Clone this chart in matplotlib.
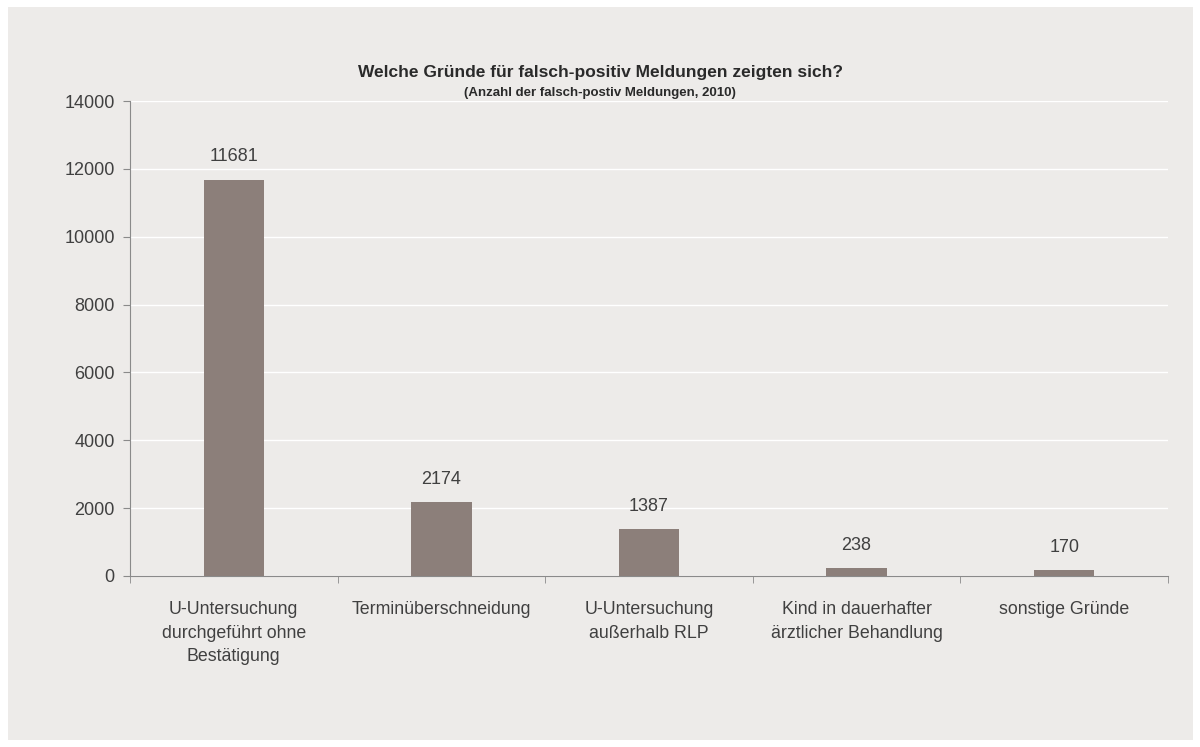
import numpy as np
import matplotlib.pyplot as plt
from matplotlib.patches import Rectangle

categories = [
    "U-Untersuchung\ndurchgeführt ohne\nBestätigung",
    "Terminüberschneidung",
    "U-Untersuchung\naußerhalb RLP",
    "Kind in dauerhafter\närztlicher Behandlung",
    "sonstige Gründe",
]
values = [11681, 2174, 1387, 238, 170]
yticks = [0, 2000, 4000, 6000, 8000, 10000, 12000, 14000]

bg = "#edebe9"
bar_color = "#8c7f7a"
text_color = "#404040"
axis_color = "#8a8a8a"

plt.rcParams['font.family'] = ['Liberation Sans', 'DejaVu Sans']

fig = plt.figure(figsize=(12, 7.47), dpi=100)
fig.patch.set_facecolor("white")
# light grey frame behind the whole chart
fig.add_artist(Rectangle((8 / 1200, 1 - 740 / 747), 1185 / 1200, 733 / 747,
                         transform=fig.transFigure, facecolor=bg,
                         edgecolor="none", zorder=-10))

ax = fig.add_axes([130 / 1200, 1 - 576 / 747, 1038 / 1200, 475 / 747])
ax.set_facecolor(bg)

x = np.arange(len(categories))
ax.bar(x, values, width=0.29, color=bar_color, zorder=3)
for xi, v in zip(x, values):
    ax.text(xi, v + 420, str(v), ha="center", va="bottom", fontsize=13,
            color=text_color)

ax.set_xlim(-0.5, len(categories) - 0.5)
ax.set_ylim(0, 14000)
ax.set_yticks(yticks)
ax.set_yticklabels([str(t) for t in yticks])
ax.yaxis.grid(True, color="white", linewidth=1.0, zorder=0)
ax.set_axisbelow(True)

ax.set_xticks(x)
ax.set_xticklabels(categories, linespacing=1.5)
ax.set_xticks(np.arange(len(categories) + 1) - 0.5, minor=True)
ax.tick_params(axis="x", which="major", length=0, pad=18, labelsize=12.8,
               labelcolor=text_color)
ax.tick_params(axis="x", which="minor", length=5, color=axis_color,
               direction="out")
ax.tick_params(axis="y", length=5, color=axis_color, labelsize=13,
               labelcolor=text_color, pad=6)

for s in ["top", "right"]:
    ax.spines[s].set_visible(False)
ax.spines["left"].set_color(axis_color)
ax.spines["bottom"].set_color(axis_color)

fig.text(0.5, 1 - 73 / 747, "Welche Gründe für falsch-positiv Meldungen zeigten sich?",
         ha="center", va="center", fontsize=12.5, fontweight="bold",
         color="#2a2a2a")
fig.text(0.5, 1 - 93 / 747, "(Anzahl der falsch-postiv Meldungen, 2010)",
         ha="center", va="center", fontsize=9.5, fontweight="bold",
         color="#2a2a2a")

fig.savefig("out.png", dpi=100, facecolor=fig.get_facecolor())
